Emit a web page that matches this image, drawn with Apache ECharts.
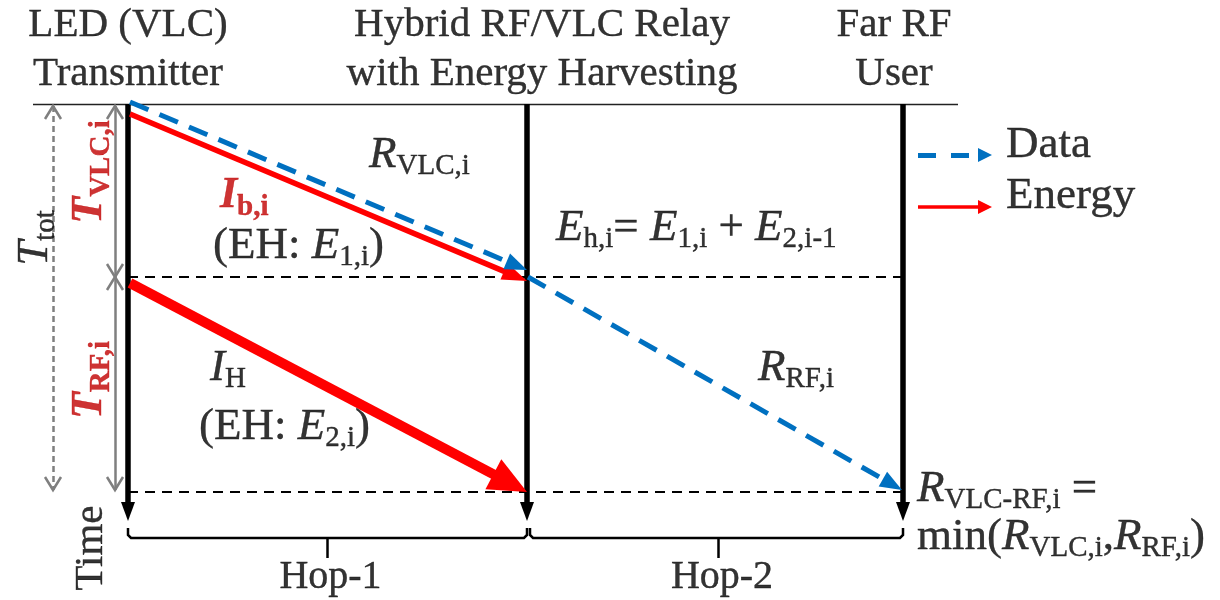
<!DOCTYPE html>
<html><head><meta charset="utf-8">
<script src="https://cdn.jsdelivr.net/npm/echarts@6/dist/echarts.min.js"></script>
<style>html,body{margin:0;padding:0;background:#fff}#c{width:1220px;height:600px}</style>
</head><body><div id="c"></div>
<script>
// ---------- diagram data (diagram units = canvas units through the axes) ----------
const nodeNames = ['LED (VLC)\nTransmitter', 'Hybrid RF/VLC Relay\nwith Energy Harvesting', 'Far RF\nUser'];
const nodeX = [128, 527, 903];            // positions of the three time lines
const timeMarks = [104, 277, 492];        // frame start, end of VLC slot, end of RF slot
const timeEnd = 521;                      // tip of the time arrows
const dataLinks = [[[130, 102], [527, 270]], [[528, 277], [902, 490]]];   // R_VLC,i , R_RF,i
const energyVLC = [[130, 114], [527, 281]];                             // I_b,i
const energyRF = [[130, 283], [527, 492]];                              // I_H
const hopNames = ['Hop-1', 'Hop-2'];
const legendNames = ['Data', 'Energy'];

const F = 'Liberation Serif';
const RED = '#FF0000', DRED = '#C00000', BLUE = '#0070C0', GRAY = '#7F7F7F';

function st(o) { return Object.assign({ fontFamily: F, color: '#000', textBorderColor: o.color || '#000', textBorderWidth: 0.4 }, o); }
const rich = {
  h: st({ fontSize: 41, lineHeight: 49 }),
  hp: st({ fontSize: 40, lineHeight: 48 }),
  lg: st({ fontSize: 45, lineHeight: 50 }),
  n: st({ fontSize: 45, lineHeight: 52 }),
  i: st({ fontSize: 45, fontStyle: 'italic', lineHeight: 52 }),
  s: st({ fontSize: 29, lineHeight: 18, verticalAlign: 'bottom' }),
  ri: st({ fontSize: 44, fontStyle: 'italic', fontWeight: 'bold', color: DRED, lineHeight: 52 }),
  rs: st({ fontSize: 29, fontWeight: 'bold', color: DRED, lineHeight: 18, verticalAlign: 'bottom' })
};

// arrow helper: pull the line end back so that the triangle tip lands on the given point
function toTip(p1, p2, h) {
  const dx = p2[0] - p1[0], dy = p2[1] - p1[1], L = Math.hypot(dx, dy);
  return [p2[0] - dx / L * h / 2, p2[1] - dy / L * h / 2];
}
function arrowSeries(segs, color, width, type, head) {
  return {
    type: 'lines', coordinateSystem: 'cartesian2d', silent: true, z: 3,
    symbol: ['none', 'triangle'], symbolSize: [1, head],
    lineStyle: { color: color, width: width, type: type, opacity: 1, cap: 'butt' },
    data: segs.map(s => ({ coords: [s[0], toTip(s[0], s[1], head[1])] }))
  };
}
function plainSeries(segs, color, width, type, polyline) {
  return {
    type: 'lines', coordinateSystem: 'cartesian2d', silent: true, polyline: !!polyline, z: 2,
    lineStyle: { color: color, width: width, type: type || 'solid', opacity: 1, join: 'miter' },
    data: segs.map(s => ({ coords: s }))
  };
}

const series = [];
// top rule
series.push(plainSeries([[[33, timeMarks[0]], [958, timeMarks[0]]]], '#222', 1.3));
// dashed slot boundaries
series.push(plainSeries(timeMarks.slice(1).map(t => [[nodeX[0], t], [nodeX[2], t]]), '#000', 2.2, [10, 7]));
// time lines
series.push(arrowSeries(nodeX.map(x => [[x, timeMarks[0]], [x, timeEnd]]), '#000', 5.5, 'solid', [14, 19]));
// energy arrows
series.push(arrowSeries([energyVLC], RED, 5.5, 'solid', [18, 25]));
series.push(arrowSeries([energyRF], RED, 10, 'solid', [34, 38]));
// data arrows
series.push(arrowSeries(dataLinks, BLUE, 5, [20, 12], [17, 22]));

// gray duration arrows
const spans = [
  { x: 53, a: timeMarks[0] + 2, b: timeMarks[2] - 2, dash: [6, 4] },
  { x: 115, a: timeMarks[0] + 2, b: timeMarks[1], dash: 'solid' },
  { x: 115, a: timeMarks[1], b: timeMarks[2] - 2, dash: 'solid' }
];
spans.forEach(s => series.push(plainSeries([[[s.x, s.a], [s.x, s.b]]], GRAY, 2.5, s.dash)));
const chev = [];
spans.forEach(s => {
  chev.push([[s.x - 8, s.a + 13], [s.x, s.a], [s.x + 8, s.a + 13]]);
  chev.push([[s.x - 8, s.b - 13], [s.x, s.b], [s.x + 8, s.b - 13]]);
});
series.push(plainSeries(chev, GRAY, 2.5, 'solid', true));

// hop brackets
const by = 538, hk = 528;
const brackets = [
  [[nodeX[0], hk], [nodeX[0], by - 3], [nodeX[0] + 3, by], [nodeX[1] - 3, by], [nodeX[1], by - 3], [nodeX[1], hk]],
  [[nodeX[1] + 3, hk], [nodeX[1] + 3, by - 3], [nodeX[1] + 6, by], [nodeX[2] - 3, by], [nodeX[2], by - 3], [nodeX[2], hk]]
];
series.push(plainSeries(brackets, '#000', 2.5, 'solid', true));
const hopMid = [(nodeX[0] + nodeX[1]) / 2, (nodeX[1] + nodeX[2]) / 2 + 3];
series.push(plainSeries(hopMid.map(x => [[x, by], [x, by + 20]]), '#000', 2.5));

// legend samples
series.push(arrowSeries([[[918, 155], [992, 155]]], BLUE, 5, [18, 15], [14, 14]));
series.push(arrowSeries([[[918, 207], [992, 207]]], RED, 3.5, 'solid', [14, 14]));

// ---------- texts ----------
function txt(x, y, f, align, rot) {
  return {
    value: [x, y],
    label: { show: true, position: 'inside', formatter: f, align: align || 'center', verticalAlign: 'middle', rotate: rot || 0, rich: rich,
      fontFamily: F, fontSize: 41, color: '#000', lineHeight: 49 }
  };
}
const headerY = 50;
const hdr = s => s.split('\n').map(t => '{h|' + t + '}').join('\n');
const texts = [
  txt(nodeX[0], headerY, hdr(nodeNames[0])),
  txt(542, headerY, hdr(nodeNames[1])),
  txt(894, headerY, hdr(nodeNames[2])),
  txt(1006, 145, '{lg|' + legendNames[0] + '}', 'left'),
  txt(1006, 196, '{lg|' + legendNames[1] + '}', 'left'),
  txt(369, 155, '{i|R}{s|VLC,i}', 'left'),
  txt(220, 196, '{ri|I}{rs|b,i}', 'left'),
  txt(213, 246, '{n|(EH: }{i|E}{s|1,i}{n|)}', 'left'),
  txt(556, 228, '{i|E}{s|h,i}{n|= }{i|E}{s|1,i}{n| + }{i|E}{s|2,i-1}', 'left'),
  txt(758, 368, '{i|R}{s|RF,i}', 'left'),
  txt(210, 368, '{i|I}{s|H}', 'left'),
  txt(199, 427, '{n|(EH: }{i|E}{s|2,i}{n|)}', 'left'),
  txt(917, 489, '{i|R}{s|VLC-RF,i}{n| =}', 'left'),
  txt(917, 537, '{n|min(}{i|R}{s|VLC,i}{n|,}{i|R}{s|RF,i}{n|)}', 'left'),
  txt(hopMid[0] + 3, 577, '{hp|' + hopNames[0] + '}'),
  txt(hopMid[1] + 4, 577, '{hp|' + hopNames[1] + '}'),
  txt(91, 548, '{h|Time}', 'center', 90),
  txt(35, 238, '{i|T}{s|tot}', 'center', 90),
  txt(90, 172, '{ri|T}{rs|VLC,i}', 'center', 90),
  txt(90, 380, '{ri|T}{rs|RF,i}', 'center', 90)
];
series.push({ type: 'scatter', symbolSize: 0, silent: true, z: 5, data: texts });

const chart = echarts.init(document.getElementById('c'), null, { renderer: 'canvas' });
chart.setOption({
  animation: false,
  backgroundColor: '#fff',
  grid: { left: 0, right: 0, top: 0, bottom: 0, containLabel: false },
  xAxis: { type: 'value', min: 0, max: 1220, show: false },
  yAxis: { type: 'value', min: 0, max: 600, inverse: true, show: false },
  series: series
});
</script></body></html>
